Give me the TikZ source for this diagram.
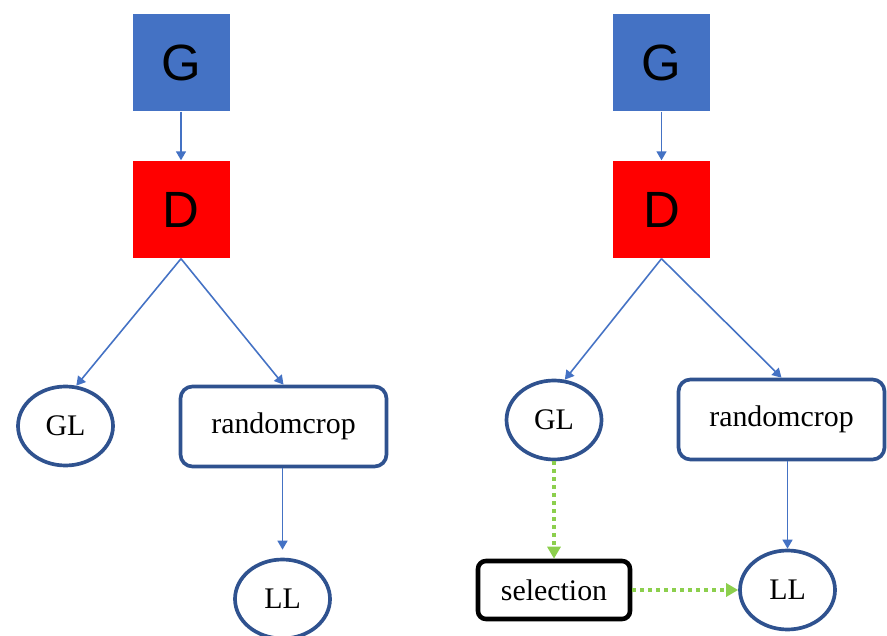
\documentclass[tikz,border=0pt]{standalone}
\usepackage{fontspec}
\setmainfont{Liberation Serif}
\newfontfamily\headfont{Liberation Sans}
\usetikzlibrary{arrows.meta}
\usetikzlibrary{shapes.geometric}
\definecolor{netblue}{HTML}{4472C4}
\definecolor{edgeblue}{HTML}{2F528F}
\definecolor{selgreen}{HTML}{8CCF4D}

\begin{document}
\begin{tikzpicture}[
	font=\fontsize{8.5}{10}\selectfont,
	net/.style={minimum size=0.97cm,inner sep=0pt,font=\headfont\fontsize{14.5}{16}\selectfont},
	loss/.style={ellipse,draw=edgeblue,line width=1.05pt,minimum width=0.95cm,minimum height=0.79cm,inner sep=0pt},
	crop/.style={rectangle,rounded corners=0.12cm,draw=edgeblue,line width=1.05pt,minimum width=2.06cm,minimum height=0.8cm},
	flow/.style={draw=netblue,line width=0.45pt,-{Triangle[length=0.9mm,width=1.0mm]}},
	pick/.style={draw=selgreen,line width=1.2pt,dash pattern=on 0.04cm off 0.04cm,-{Triangle[length=1.2mm,width=1.3mm]}}]
\useasboundingbox (0,0) rectangle (8.87,-6.36);
% left: plain
\node[net,fill=netblue] (Ga) at (1.81,-0.625) {G};
\node[net,fill=red] (Da) at (1.81,-2.095) {D};
\node[loss] (GLa) at (0.655,-4.26) {GL};
\node[crop] (RCa) at (2.835,-4.265) {randomcrop};
\node[loss] (LLa) at (2.825,-5.99) {LL};
\draw[flow] (Ga) -- (Da);
\draw[flow] (Da.south) -- (GLa.75);
\draw[flow] (Da.south) -- (RCa.north);
\draw[flow,shorten >=0.08cm] (RCa.south -| LLa.north) -- (LLa.north);
% right: with selection
\node[net,fill=netblue] (Gb) at (6.615,-0.625) {G};
\node[net,fill=red] (Db) at (6.615,-2.095) {D};
\node[loss] (GLb) at (5.54,-4.20) {GL};
\node[crop] (RCb) at (7.815,-4.195) {randomcrop};
\node[loss] (LLb) at (7.875,-5.90) {LL};
\node[rectangle,rounded corners=0.08cm,draw=black,line width=1.3pt,minimum width=1.52cm,minimum height=0.58cm] (SEL) at (5.54,-5.90) {selection};
\draw[flow] (Gb) -- (Db);
\draw[flow] (Db.south) -- (GLb.75);
\draw[flow] (Db.south) -- (RCb.north);
\draw[flow] (RCb.south -| LLb.north) -- (LLb.north);
\draw[pick] (GLb.south) -- (SEL.north);
\draw[pick] (SEL.east) -- (LLb.west);
\end{tikzpicture}
\end{document}
